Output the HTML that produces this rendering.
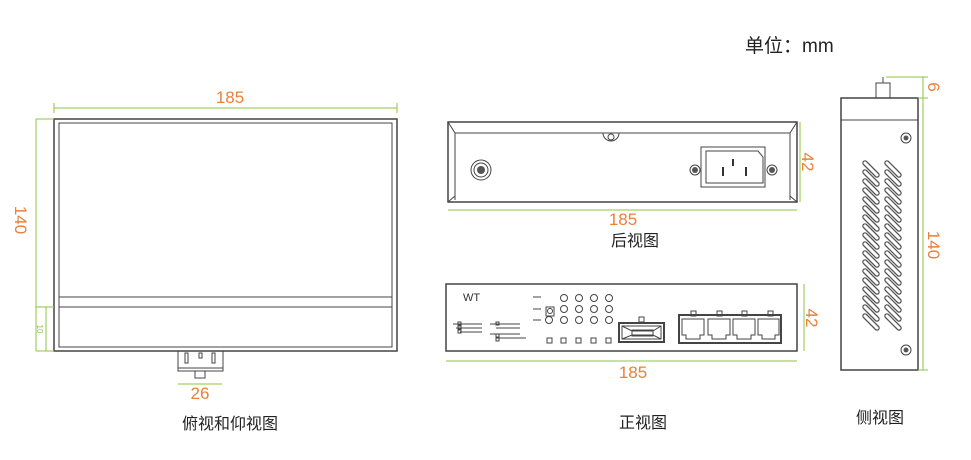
<!DOCTYPE html>
<html><head><meta charset="utf-8"><style>
html,body{margin:0;padding:0;background:#fff;width:971px;height:460px;overflow:hidden}
svg{display:block}
.o{fill:#fff;stroke:#444;stroke-width:1.5}
.l{fill:none;stroke:#444;stroke-width:1}
.d{stroke:#8cc43c;stroke-width:1;fill:none}
.n{fill:#e8813a;font-family:"Liberation Sans",sans-serif;font-size:17px}
.t{fill:#222;font-family:"Liberation Sans","Noto Sans CJK SC",sans-serif;font-size:16px}
</style></head><body>
<svg width="971" height="460" viewBox="0 0 971 460">
<rect x="54" y="119" width="343" height="232" class="o"/>
<rect x="59" y="123" width="333" height="224" class="l" fill="#fff"/>
<line x1="59" y1="297" x2="392" y2="297" class="l"/>
<line x1="59" y1="307" x2="392" y2="307" class="l"/>
<line x1="54" y1="108" x2="397" y2="108" class="d"/>
<line x1="54" y1="103" x2="54" y2="113" class="d"/><line x1="397" y1="103" x2="397" y2="113" class="d"/>
<text x="230" y="103" class="n" text-anchor="middle">185</text>
<line x1="36" y1="119" x2="36" y2="351" class="d"/>
<line x1="36" y1="119" x2="54" y2="119" class="d"/><line x1="36" y1="351" x2="54" y2="351" class="d"/>
<line x1="46" y1="307" x2="46" y2="351" class="d"/><line x1="36" y1="307" x2="54" y2="307" class="d"/>
<text transform="translate(15,220) rotate(90)" class="n" text-anchor="middle">140</text>
<text transform="translate(37,329) rotate(90)" fill="#8cc43c" font-size="8" font-family="Liberation Sans" text-anchor="middle">10</text>
<rect x="178" y="351" width="45" height="20" class="l" fill="#fff"/>
<line x1="178" y1="368" x2="223" y2="368" class="l"/>
<rect x="185" y="353" width="3" height="10" class="l"/><rect x="212" y="353" width="3" height="10" class="l"/><rect x="199" y="353" width="3" height="5" class="l"/>
<rect x="195" y="371" width="10" height="7" class="l"/>
<line x1="178" y1="384" x2="222" y2="384" class="d"/>
<text x="200" y="399" class="n" text-anchor="middle">26</text>
<text x="230" y="429" class="t" text-anchor="middle">俯视和仰视图</text>

<rect x="448" y="122" width="349" height="80" class="o"/>
<path d="M448 122 L455 133 L790 133 L797 122 M455 133 L455 200 M790 133 L790 200 M448 202 L455 196 M797 202 L790 196" class="l" stroke-width="1.5"/>
<path d="M603 133 A8 8 0 0 0 619 133" class="l"/>
<circle cx="611" cy="137" r="3" class="l"/>
<circle cx="481" cy="170" r="10" class="l"/><circle cx="481" cy="170" r="7" class="l"/><circle cx="481" cy="170" r="4" fill="#555"/>
<rect x="701" y="147" width="64" height="40" class="l" stroke-width="2"/>
<path d="M706 151 H758 L763 157 V183 H706 Z" class="l"/>
<line x1="723" y1="167" x2="723" y2="176" stroke="#333" stroke-width="2"/>
<line x1="733" y1="159" x2="733" y2="166" stroke="#333" stroke-width="2"/>
<line x1="746" y1="167" x2="746" y2="176" stroke="#333" stroke-width="2"/>
<circle cx="695" cy="170" r="5" class="l"/><circle cx="695" cy="170" r="3" fill="#555"/>
<circle cx="772" cy="170" r="5" class="l"/><circle cx="772" cy="170" r="3" fill="#555"/>
<line x1="448" y1="210" x2="797" y2="210" class="d"/>
<line x1="800" y1="122" x2="800" y2="202" class="d"/>
<text x="623" y="225" class="n" text-anchor="middle">185</text>
<text transform="translate(802,162) rotate(90)" class="n" text-anchor="middle">42</text>
<text x="635" y="246" class="t" text-anchor="middle">后视图</text>

<rect x="446" y="284" width="351" height="67" class="o"/>
<text x="463" y="301" font-family="Liberation Sans" font-size="11" fill="#333">WT</text>
<g class="l">
<line x1="453" y1="324" x2="482" y2="324"/><line x1="456" y1="328" x2="482" y2="328"/><line x1="460" y1="332" x2="482" y2="332"/>
<rect x="458" y="322" width="3" height="3"/><rect x="458" y="326" width="3" height="3"/><rect x="458" y="330" width="3" height="3"/>
<line x1="490" y1="324" x2="520" y2="324"/><line x1="496" y1="328" x2="520" y2="328"/><line x1="490" y1="334" x2="520" y2="334"/><line x1="496" y1="338" x2="526" y2="338"/>
<rect x="496" y="322" width="3" height="3"/><rect x="496" y="334" width="3" height="3"/><rect x="496" y="338" width="3" height="3"/>
<line x1="533" y1="297" x2="541" y2="297"/><line x1="533" y1="309" x2="541" y2="309"/><line x1="533" y1="320" x2="541" y2="320"/>
<rect x="546" y="307" width="8" height="9"/><circle cx="550" cy="311" r="2.5"/>
<circle cx="549" cy="320" r="3.5"/>
</g>
<g class="l">
<circle cx="564" cy="298" r="3.5"/><circle cx="579" cy="298" r="3.5"/><circle cx="594" cy="298" r="3.5"/><circle cx="609" cy="298" r="3.5"/>
<circle cx="564" cy="309" r="3.5"/><circle cx="579" cy="309" r="3.5"/><circle cx="594" cy="309" r="3.5"/><circle cx="609" cy="309" r="3.5"/>
<circle cx="564" cy="320" r="3.5"/><circle cx="579" cy="320" r="3.5"/><circle cx="594" cy="320" r="3.5"/><circle cx="609" cy="320" r="3.5"/>
<rect x="547" y="338" width="5" height="5"/><rect x="561" y="338" width="5" height="5"/><rect x="576" y="338" width="5" height="5"/><rect x="591" y="338" width="5" height="5"/><rect x="606" y="338" width="5" height="5"/>
<rect x="639" y="317" width="5" height="5"/>
</g>
<rect x="619" y="323" width="45" height="19" fill="none" stroke="#444" stroke-width="2"/>
<path d="M622 326 H661 V339 H622 Z M622 326 L632 331 H653 L661 326 M622 339 L632 335 H653 L661 339" class="l"/>
<rect x="632" y="330" width="21" height="6" class="l"/>
<rect x="679" y="315" width="102" height="28" fill="none" stroke="#444" stroke-width="2"/>
<g class="l">
<rect x="691" y="311" width="5" height="5"/><rect x="717" y="311" width="5" height="5"/><rect x="742" y="311" width="5" height="5"/><rect x="768" y="311" width="5" height="5"/>
<path d="M682 319 H704 V335 H700 V339 H686 V335 H682 Z"/>
<path d="M708 319 H730 V335 H726 V339 H712 V335 H708 Z"/>
<path d="M733 319 H755 V335 H751 V339 H737 V335 H733 Z"/>
<path d="M758 319 H779 V335 H775 V339 H762 V335 H758 Z"/>
</g>
<line x1="446" y1="361" x2="797" y2="361" class="d"/>
<line x1="804" y1="284" x2="804" y2="351" class="d"/>
<text x="633" y="378" class="n" text-anchor="middle">185</text>
<text transform="translate(806,318) rotate(90)" class="n" text-anchor="middle">42</text>
<text x="643" y="428" class="t" text-anchor="middle">正视图</text>

<rect x="841" y="98" width="77" height="272" class="o"/>
<line x1="841" y1="120" x2="918" y2="120" class="l" stroke-width="1.5"/>
<rect x="876" y="83" width="14" height="15" class="l" fill="#fff"/>
<line x1="883" y1="77" x2="883" y2="83" class="l"/>
<circle cx="906" cy="138" r="5" class="l"/><circle cx="906" cy="138" r="2.5" fill="#555"/>
<circle cx="906" cy="350" r="5" class="l"/><circle cx="906" cy="350" r="2.5" fill="#555"/>
<g stroke="#555" stroke-width="5.5" stroke-linecap="round" fill="none">
<g id="col">
<line x1="865" y1="163" x2="877" y2="175"/><line x1="865" y1="172" x2="877" y2="184"/><line x1="865" y1="181" x2="877" y2="193"/><line x1="865" y1="190" x2="877" y2="202"/><line x1="865" y1="199" x2="877" y2="211"/><line x1="865" y1="208" x2="877" y2="220"/><line x1="865" y1="217" x2="877" y2="229"/><line x1="865" y1="226" x2="877" y2="238"/><line x1="865" y1="235" x2="877" y2="247"/><line x1="865" y1="244" x2="877" y2="256"/><line x1="865" y1="253" x2="877" y2="265"/><line x1="865" y1="262" x2="877" y2="274"/><line x1="865" y1="271" x2="877" y2="283"/><line x1="865" y1="280" x2="877" y2="292"/><line x1="865" y1="289" x2="877" y2="301"/><line x1="865" y1="298" x2="877" y2="310"/><line x1="865" y1="307" x2="877" y2="319"/><line x1="865" y1="316" x2="877" y2="328"/>
</g>
<use href="#col" x="22"/>
</g>
<g stroke="#fff" stroke-width="3" stroke-linecap="round" fill="none">
<use href="#col"/>
<use href="#col" x="22"/>
</g>
<line x1="923" y1="77" x2="923" y2="370" class="d"/>
<line x1="886" y1="77" x2="928" y2="77" class="d"/><line x1="918" y1="98" x2="928" y2="98" class="d"/><line x1="918" y1="370" x2="928" y2="370" class="d"/>
<text transform="translate(928,87) rotate(90)" class="n" text-anchor="middle">6</text>
<text transform="translate(928,245) rotate(90)" class="n" text-anchor="middle">140</text>
<text x="880" y="423" class="t" text-anchor="middle">侧视图</text>

<text x="745" y="52" font-family="Liberation Sans,'Noto Sans CJK SC',sans-serif" font-size="19" fill="#222">单位：mm</text>
</svg>
</body></html>
